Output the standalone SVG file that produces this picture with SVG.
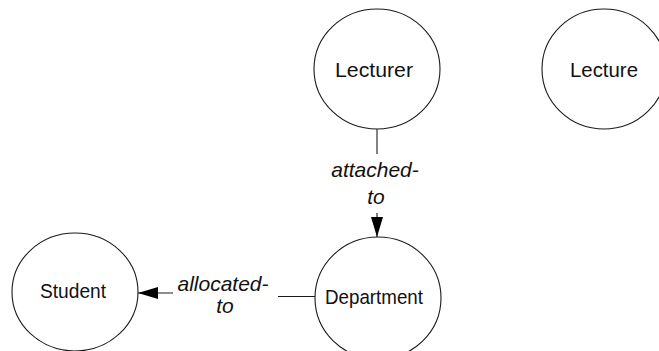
<svg xmlns="http://www.w3.org/2000/svg" width="659" height="351" viewBox="0 0 659 351">
  <style>
    .node { fill: #ffffff; stroke: #1a1a1a; stroke-width: 1.1; }
    .label { font-family: "Liberation Sans", Arial, sans-serif; font-size: 20.5px; fill: #111111; text-anchor: middle; }
    .edge { stroke: #1a1a1a; stroke-width: 1.1; fill: none; }
    .elabel { font-family: "Liberation Sans", Arial, sans-serif; font-size: 21px; font-style: italic; fill: #111111; text-anchor: middle; }
  </style>
  <defs>
    <marker id="arrow" markerWidth="20" markerHeight="12" refX="20" refY="6" orient="auto" markerUnits="userSpaceOnUse">
      <path d="M0,0 L20,6 L0,12 Z" fill="#000000"/>
    </marker>
  </defs>
  <rect width="659" height="351" fill="#ffffff"/>

  <g id="connectors">
    <!-- Lecturer -> Department : attached-to -->
    <line class="edge" x1="377" y1="129" x2="377" y2="154"/>
    <line class="edge" x1="377" y1="213" x2="377" y2="237" marker-end="url(#arrow)"/>
    <text class="elabel" x="375" y="177">attached-</text>
    <text class="elabel" x="376" y="204">to</text>
    <!-- Department -> Student : allocated-to -->
    <line class="edge" x1="315" y1="296.5" x2="278" y2="296.5"/>
    <line class="edge" x1="173" y1="293" x2="138" y2="293" marker-end="url(#arrow)"/>
    <text class="elabel" x="223" y="291">allocated-</text>
    <text class="elabel" x="225" y="313">to</text>
  </g>

  <g id="lecturer">
    <ellipse class="node" cx="377" cy="69" rx="63" ry="60"/>
    <text class="label" x="374" y="77" textLength="78" lengthAdjust="spacingAndGlyphs">Lecturer</text>
  </g>

  <g id="lecture">
    <ellipse class="node" cx="604" cy="69" rx="62" ry="60"/>
    <text class="label" x="604" y="77" textLength="68" lengthAdjust="spacingAndGlyphs">Lecture</text>
  </g>

  <g id="department">
    <ellipse class="node" cx="378" cy="298" rx="63" ry="61"/>
    <text class="label" x="374" y="304" textLength="98" lengthAdjust="spacingAndGlyphs">Department</text>
  </g>

  <g id="student">
    <ellipse class="node" cx="75" cy="292" rx="63" ry="59"/>
    <text class="label" x="73" y="298" textLength="66" lengthAdjust="spacingAndGlyphs">Student</text>
  </g>
</svg>
